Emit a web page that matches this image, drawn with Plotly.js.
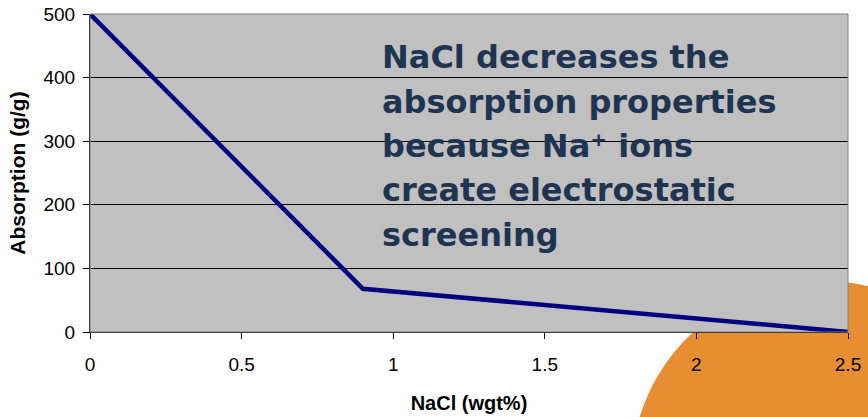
<!DOCTYPE html>
<html>
<head>
<meta charset="utf-8">
<script src="https://cdn.plot.ly/plotly-3.0.1.min.js"></script>
<style>html,body{margin:0;padding:0;background:#fff;}#chart{width:868px;height:417px;}</style>
</head>
<body>
<div id="chart"></div>
<script>
// Data
var nacl = [0, 0.9, 2.5];
var absorption = [500, 68, 0];
var xTicks = [0, 0.5, 1, 1.5, 2, 2.5];
var xTickLabels = ['0', '0.5', '1', '1.5', '2', '2.5'];
var yTicks = [0, 100, 200, 300, 400, 500];
var yTickLabels = ['0', '100', '200', '300', '400', '500'];
var noteLines = ['NaCl decreases the', 'absorption properties', 'because Na\u207A ions', 'create electrostatic', 'screening'];

var W = 868, H = 417, L = 90, R = 20, T = 14, B = 85;
var pw = W - L - R, ph = H - T - B;
function px2x(px) { return (px - L) / pw; }
function py2y(py) { return (H - B - py) / ph; }

var trace = {
  x: nacl, y: absorption, type: 'scatter', mode: 'lines',
  line: {color: '#000080', width: 4.5},
  hoverinfo: 'none', showlegend: false
};

var noteAnnotations = noteLines.map(function (t, i) {
  return {
    xref: 'paper', yref: 'paper', x: px2x(380), y: py2y(36 + 44.5 * i),
    xanchor: 'left', yanchor: 'top', align: 'left', showarrow: false,
    text: t,
    font: {family: 'DejaVu Sans, Verdana, sans-serif', size: 32, weight: 'bold', color: '#1E3450'}
  };
});

var layout = {
  width: W, height: H,
  margin: {l: L, r: R, t: T, b: B, pad: 0},
  paper_bgcolor: '#ffffff',
  plot_bgcolor: 'rgba(0,0,0,0)',
  font: {family: 'Liberation Sans, Arial, sans-serif', size: 19, color: '#000'},
  xaxis: {
    range: [0, 2.5], tickmode: 'array', tickvals: xTicks, ticktext: xTickLabels,
    showgrid: false, zeroline: false, showline: true, linecolor: '#000', linewidth: 1,
    ticks: 'outside', ticklen: 6, tickcolor: '#000', tickwidth: 1,
    ticklabelstandoff: 9,
    title: {text: 'NaCl (wgt%)', font: {family: 'Liberation Sans, Arial, sans-serif', size: 20, weight: 'bold', color: '#000'}, standoff: 22}
  },
  yaxis: {
    range: [0, 500], tickmode: 'array', tickvals: yTicks, ticktext: yTickLabels,
    showgrid: true, gridcolor: '#000', gridwidth: 1, zeroline: false,
    showline: true, linecolor: '#000', linewidth: 1,
    ticks: 'outside', ticklen: 6, tickcolor: '#000', tickwidth: 1,
    ticklabelstandoff: 4,
    title: {text: 'Absorption (g/g)', font: {family: 'Liberation Sans, Arial, sans-serif', size: 21, weight: 'bold', color: '#000'}, standoff: 12}
  },
  shapes: [
    {type: 'circle', xref: 'paper', yref: 'paper', layer: 'below',
     x0: px2x(631), x1: px2x(1017), y0: py2y(667), y1: py2y(281),
     fillcolor: '#E68E31', line: {width: 0}},
    {type: 'rect', xref: 'paper', yref: 'paper', layer: 'below',
     x0: 0, x1: 1, y0: 0, y1: 1, fillcolor: '#C0C0C0', line: {width: 0}},
    {type: 'rect', xref: 'paper', yref: 'paper', layer: 'above',
     x0: 0, x1: 1, y0: 0, y1: 1, fillcolor: 'rgba(0,0,0,0)', line: {color: '#808080', width: 1}}
  ],
  annotations: noteAnnotations
};

Plotly.newPlot('chart', [trace], layout, {displayModeBar: false, staticPlot: true});
</script>
</body>
</html>
